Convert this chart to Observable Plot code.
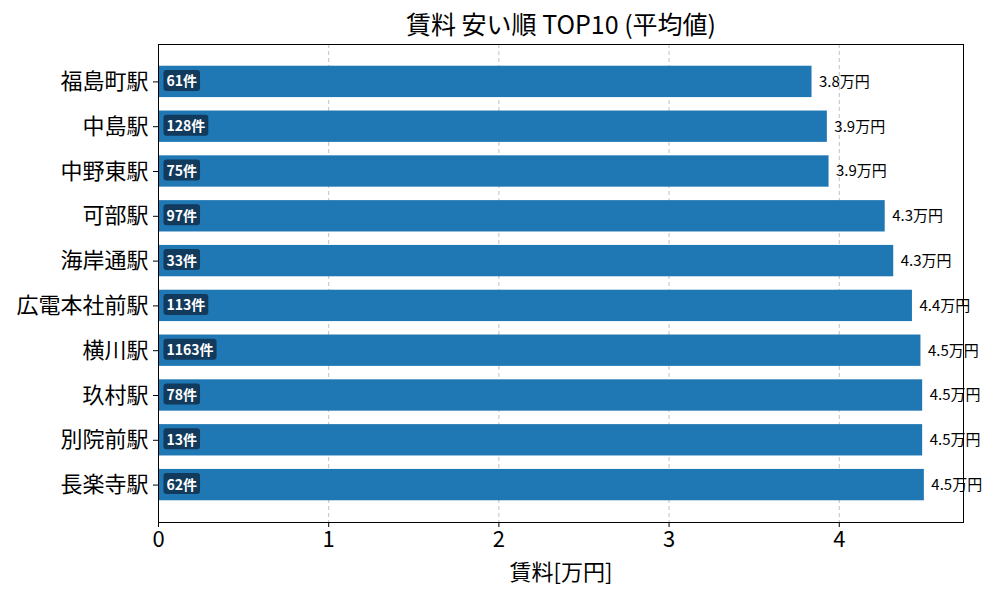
<!DOCTYPE html>
<html>
<head>
<meta charset="utf-8">
<script src="https://cdn.jsdelivr.net/npm/d3@7"></script>
<script src="https://cdn.jsdelivr.net/npm/@observablehq/plot@0.6"></script>
<style>
  body { margin: 0; background: #fff; }
  #chart svg { display: block; }
</style>
</head>
<body>
<div id="chart"></div>
<script>
const title = "賃料 安い順 TOP10 (平均値)";
const xLabel = "賃料[万円]";
const stations = ["福島町駅","中島駅","中野東駅","可部駅","海岸通駅","広電本社前駅","横川駅","玖村駅","別院前駅","長楽寺駅"];
const rents = [3.84, 3.93, 3.94, 4.27, 4.32, 4.43, 4.48, 4.49, 4.49, 4.50];
const counts = [61, 128, 75, 97, 33, 113, 1163, 78, 13, 62];
const xTicks = [0, 1, 2, 3, 4];

const data = stations.map((s, i) => ({station: s, rent: rents[i], count: counts[i]}));

const font = "'Noto Sans CJK JP', 'Noto Sans', sans-serif";

const plot = Plot.plot({
  width: 1000,
  height: 600,
  marginTop: 44,
  marginBottom: 78,
  marginLeft: 158,
  marginRight: 37,
  style: {fontFamily: font, color: "#000", background: "#fff"},
  x: {domain: [0, 4.73]},
  y: {domain: stations, paddingInner: 0.3, paddingOuter: 0.485, align: 0.5, round: false},
  marks: [
    Plot.gridX(xTicks.slice(1), {stroke: "#b0b0b0", strokeOpacity: 1, strokeWidth: 0.8, strokeDasharray: "4,3"}),
    Plot.barX(data, {x: "rent", y: "station", fill: "#1f77b4"}),
    Plot.text(data, {x: 0, y: "station", text: d => `${d.count}件`, dx: 8, textAnchor: "start", fill: "#fff", fontWeight: "bold", fontSize: 14, ariaDescription: "badge"}),
    Plot.text(data, {x: "rent", y: "station", text: d => `${d.rent.toFixed(1)}万円`, dx: 7, textAnchor: "start", fill: "#000", fontSize: 15}),
    Plot.frame({stroke: "#000", strokeWidth: 1}),
    Plot.axisY({tickSize: 5, tickPadding: 5, fontSize: 22, label: null}),
    Plot.axisX({ticks: xTicks, tickFormat: d => String(d), tickSize: 5, tickPadding: 4, fontSize: 22, label: null}),
    Plot.text([title], {frameAnchor: "top", lineAnchor: "middle", dy: -19, fontSize: 25, fill: "#000"}),
    Plot.text([xLabel], {frameAnchor: "bottom", lineAnchor: "middle", dy: 50, fontSize: 22, fill: "#000"})
  ]
});

document.getElementById("chart").appendChild(plot);

// add rounded background boxes behind count badges
const g = plot.querySelector('g[aria-description="badge"]');
if (g) {
  g.querySelectorAll("text").forEach(t => {
    const b = t.getBBox();
    const tr = t.getAttribute("transform");
    const r = document.createElementNS("http://www.w3.org/2000/svg", "rect");
    r.setAttribute("x", b.x - 3);
    r.setAttribute("y", b.y - 0.5);
    r.setAttribute("width", b.width + 6);
    r.setAttribute("height", b.height + 1);
    r.setAttribute("rx", 3);
    r.setAttribute("fill", "#123a5c");
    r.setAttribute("stroke", "none");
    if (tr) r.setAttribute("transform", tr);
    t.parentNode.insertBefore(r, t);
  });
}
</script>
</body>
</html>
